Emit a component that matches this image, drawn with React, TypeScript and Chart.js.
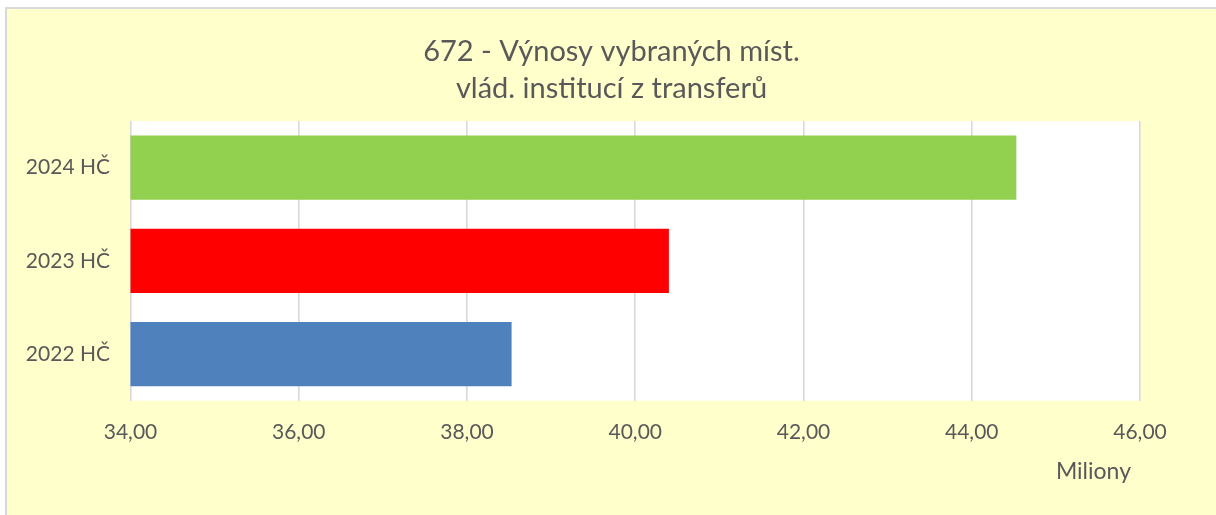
import React, { useEffect, useRef } from "react";
import { Chart, registerables } from "chart.js";

Chart.register(...registerables);

const titleLines = ["672 - Výnosy vybraných míst.", "vlád. institucí z transferů"];
const categories = ["2024 HČ", "2023 HČ", "2022 HČ"];
const values = [44.53, 40.4, 38.53];
const barColors = ["#92D050", "#FF0000", "#4F81BD"];
const axisMin = 34;
const axisMax = 46;
const axisStep = 2;
const axisTitle = "Miliony";

const FONT = "Lato, Calibri, 'Open Sans', sans-serif";
const TEXT = "#595959";
const GRID = "#D9D9D9";

const plotBg = {
  id: "plotBg",
  beforeDraw(chart: any) {
    const { ctx, chartArea } = chart;
    ctx.save();
    ctx.fillStyle = "#FFFFFF";
    ctx.fillRect(chartArea.left, chartArea.top, chartArea.right - chartArea.left, chartArea.bottom - chartArea.top);
    ctx.restore();
  },
};

const axisTitlePlugin = {
  id: "axisTitlePlugin",
  afterDraw(chart: any) {
    const { ctx } = chart;
    const xs = chart.scales.x;
    ctx.save();
    ctx.fillStyle = TEXT;
    ctx.font = `23px ${FONT}`;
    ctx.textAlign = "right";
    ctx.textBaseline = "middle";
    ctx.fillText(axisTitle, xs.right - 9, xs.top + 71);
    ctx.restore();
  },
};

export default function App() {
  const ref = useRef<HTMLCanvasElement | null>(null);
  useEffect(() => {
    if (!ref.current) return;
    const chart = new Chart(ref.current, {
      type: "bar",
      data: {
        labels: categories,
        datasets: [
          {
            data: values,
            backgroundColor: barColors,
            borderWidth: 0,
            categoryPercentage: 1,
            barPercentage: 0.69,
          },
        ],
      },
      plugins: [plotBg, axisTitlePlugin],
      options: {
        indexAxis: "y",
        animation: false,
        responsive: false,
        maintainAspectRatio: false,
        layout: { padding: 0 },
        plugins: {
          legend: { display: false },
          tooltip: { enabled: false },
          title: {
            display: true,
            text: titleLines,
            color: TEXT,
            font: { family: FONT, size: 29, weight: "normal", lineHeight: "36.6px" } as any,
            padding: { top: 24.4, bottom: 14.4 },
          },
        },
        scales: {
          x: {
            type: "linear",
            min: axisMin,
            max: axisMax,
            border: { display: false },
            grid: { color: GRID, lineWidth: 1.6, drawTicks: false },
            ticks: {
              stepSize: axisStep,
              padding: 19,
              color: TEXT,
              font: { family: FONT, size: 21 },
              callback: (v: any) => Number(v).toFixed(2).replace(".", ","),
            },
            afterFit: (s: any) => {
              s.height = 114.3;
            },
          },
          y: {
            border: { display: false },
            grid: { display: false, drawTicks: false },
            ticks: {
              padding: 20.5,
              color: TEXT,
              font: { family: FONT, size: 21 },
            },
            afterFit: (s: any) => {
              s.width = 123.5;
            },
          },
          yRight: {
            type: "category",
            position: "right",
            labels: categories,
            border: { display: false },
            grid: { display: false, drawTicks: false },
            ticks: { display: false },
            afterFit: (s: any) => {
              s.width = 76;
            },
          },
        },
      },
    });
    return () => chart.destroy();
  }, []);

  return (
    <div
      style={{
        position: "absolute",
        left: 0,
        top: 0,
        width: 1216,
        height: 515,
        background: "#FFFFFF",
        overflow: "hidden",
      }}
    >
      <div
        style={{
          position: "absolute",
          left: 5,
          top: 7,
          width: 1211,
          height: 508,
          boxSizing: "border-box",
          borderTop: `2px solid ${GRID}`,
          borderLeft: `2px solid ${GRID}`,
          background: "#FFFFCC",
        }}
      >
        <canvas ref={ref} width={1209} height={506} style={{ display: "block" }} />
      </div>
    </div>
  );
}
